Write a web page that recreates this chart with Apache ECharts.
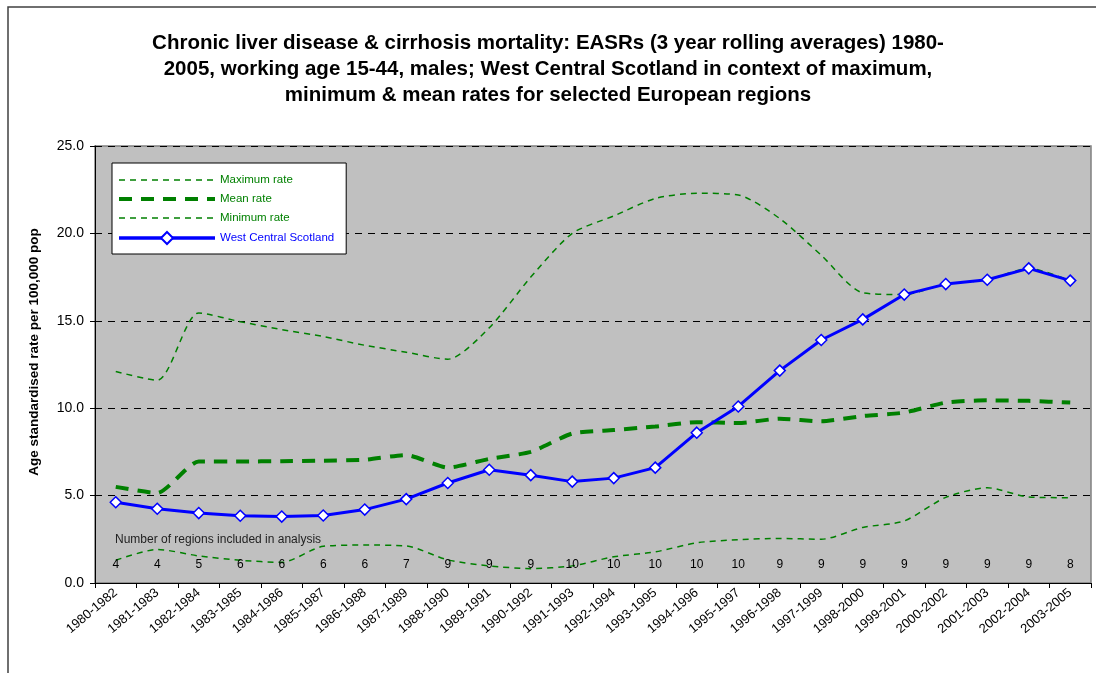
<!DOCTYPE html>
<html>
<head>
<meta charset="utf-8">
<script src="https://cdn.jsdelivr.net/npm/echarts@6/dist/echarts.min.js"></script>
<style>
  html, body { margin: 0; padding: 0; background: #fff; }
  #chart { width: 1096px; height: 673px; }
</style>
</head>
<body>
<div id="chart"></div>
<script>
// categories (3 year rolling periods)
var periods = ['1980-1982', '1981-1983', '1982-1984', '1983-1985', '1984-1986', '1985-1987',
  '1986-1988', '1987-1989', '1988-1990', '1989-1991', '1990-1992', '1991-1993', '1992-1994',
  '1993-1995', '1994-1996', '1995-1997', '1996-1998', '1997-1999', '1998-2000', '1999-2001',
  '2000-2002', '2001-2003', '2002-2004', '2003-2005'];

// EASR values
var maxRate = [12.1, 11.6, 15.45, 14.95, 14.5, 14.1, 13.6, 13.2, 12.8, 14.6, 17.5, 20.0,
  21.0, 22.0, 22.3, 22.2, 20.85, 18.75, 16.6, 16.5, 17.1, 17.35, 18.0, 17.3];
var meanRate = [5.5, 5.15, 6.95, 6.95, 6.97, 7.0, 7.05, 7.32, 6.6, 7.1, 7.5, 8.55,
  8.75, 8.95, 9.2, 9.15, 9.4, 9.25, 9.55, 9.75, 10.32, 10.45, 10.42, 10.32];
var minRate = [1.3, 1.92, 1.55, 1.3, 1.18, 2.1, 2.17, 2.12, 1.32, 0.98, 0.82, 0.98,
  1.5, 1.78, 2.3, 2.48, 2.55, 2.5, 3.18, 3.55, 4.9, 5.45, 4.92, 4.88];
var wcsRate = [4.62, 4.25, 4.0, 3.85, 3.8, 3.86, 4.2, 4.8, 5.72, 6.48, 6.17, 5.8,
  6.0, 6.6, 8.6, 10.1, 12.15, 13.9, 15.08, 16.5, 17.1, 17.35, 18.0, 17.3];

// number of regions in each period
var regionCounts = [4, 4, 5, 6, 6, 6, 6, 7, 9, 9, 9, 10, 10, 10, 10, 10, 9, 9, 9, 9, 9, 9, 9, 8];

// y axis ticks
var yMin = 0, yMax = 25, yStep = 5;

var FONT = 'Arial, "Liberation Sans", sans-serif';
var GREEN = '#008000';
var BLUE = '#0000ff';
var COUNT_ROW_Y = 0.7; // height of the count row in axis units

var chart = echarts.init(document.getElementById('chart'));

// legend: no dot for the plain dashed lines
var hiddenDot = { opacity: 0 };

var option = {
  animation: false,
  backgroundColor: '#ffffff',
  textStyle: { fontFamily: FONT },
  title: {
    text: 'Chronic liver disease & cirrhosis mortality: EASRs (3 year rolling averages) 1980-\n' +
      '2005, working age 15-44, males; West Central Scotland in context of maximum,\n' +
      'minimum & mean rates for selected European regions',
    left: 'center',
    top: 25,
    textStyle: {
      fontFamily: FONT,
      fontSize: 20.5,
      fontWeight: 'bold',
      color: '#000',
      lineHeight: 26,
      align: 'center'
    }
  },
  legend: {
    orient: 'vertical',
    left: 112,
    top: 163,
    padding: [11, 12, 9, 5],
    itemWidth: 96,
    itemHeight: 15,
    itemGap: 7,
    backgroundColor: '#ffffff',
    borderColor: '#000',
    borderWidth: 1,
    borderRadius: 0,
    selectedMode: false,
    textStyle: { fontFamily: FONT, fontSize: 11.5 },
    data: [
      { name: 'Maximum rate', textStyle: { color: GREEN }, itemStyle: hiddenDot,
        lineStyle: { width: 1.5 } },
      { name: 'Mean rate', textStyle: { color: GREEN }, itemStyle: hiddenDot,
        lineStyle: { width: 4 } },
      { name: 'Minimum rate', textStyle: { color: GREEN }, itemStyle: hiddenDot,
        lineStyle: { width: 1.5 } },
      { name: 'West Central Scotland', textStyle: { color: BLUE },
        lineStyle: { width: 3.5 } }
    ]
  },
  grid: {
    left: 95,
    right: 5,
    top: 146,
    bottom: 90,
    show: true,
    backgroundColor: '#c0c0c0',
    borderColor: '#808080',
    borderWidth: 1.5
  },
  xAxis: {
    type: 'category',
    data: periods,
    boundaryGap: true,
    axisLine: { lineStyle: { color: '#000', width: 1 } },
    axisTick: { show: true, length: 5, inside: false, lineStyle: { color: '#000' } },
    axisLabel: {
      interval: 0,
      rotate: 40,
      fontSize: 13,
      color: '#000',
      margin: 8,
      fontFamily: FONT
    },
    splitLine: { show: false }
  },
  yAxis: {
    type: 'value',
    min: yMin,
    max: yMax,
    interval: yStep,
    axisLine: { show: true, lineStyle: { color: '#000', width: 1 } },
    axisTick: { show: true, length: 5, lineStyle: { color: '#000' } },
    axisLabel: {
      fontSize: 14,
      color: '#000',
      margin: 11,
      fontFamily: FONT,
      formatter: function (v) { return v.toFixed(1); }
    },
    splitLine: {
      show: true,
      lineStyle: { color: '#000', type: [7, 6], width: 1 }
    }
  },
  graphic: [
    {
      // outer chart frame
      type: 'rect',
      shape: { x: 8, y: 7, width: 1200, height: 800 },
      style: { fill: 'none', stroke: '#404040', lineWidth: 1.5 },
      silent: true
    },
    {
      type: 'text',
      x: 34,
      y: 352,
      rotation: Math.PI / 2,
      style: {
        text: 'Age standardised rate per 100,000 pop',
        font: 'bold 13.5px ' + FONT,
        fill: '#000',
        align: 'center',
        verticalAlign: 'middle'
      }
    },
    {
      type: 'text',
      x: 115,
      y: 540,
      style: {
        text: 'Number of regions included in analysis',
        font: '12px ' + FONT,
        fill: '#222',
        align: 'left',
        verticalAlign: 'middle'
      }
    }
  ],
  series: [
    {
      name: 'Maximum rate',
      type: 'line',
      data: maxRate,
      smooth: 0.25,
      symbol: 'none',
      z: 2,
      itemStyle: { color: GREEN },
      lineStyle: { color: GREEN, width: 1.5, type: [6, 5] }
    },
    {
      name: 'Mean rate',
      type: 'line',
      data: meanRate,
      smooth: 0.2,
      symbol: 'none',
      z: 2,
      itemStyle: { color: GREEN },
      lineStyle: { color: GREEN, width: 4, type: [13, 9] }
    },
    {
      name: 'Minimum rate',
      type: 'line',
      data: minRate,
      smooth: 0.25,
      symbol: 'none',
      z: 2,
      itemStyle: { color: GREEN },
      lineStyle: { color: GREEN, width: 1.5, type: [6, 5] }
    },
    {
      name: 'West Central Scotland',
      type: 'line',
      data: wcsRate,
      symbol: 'diamond',
      symbolSize: 11,
      z: 4,
      itemStyle: { color: '#ffffff', borderColor: BLUE, borderWidth: 1.5 },
      lineStyle: { color: BLUE, width: 3 }
    },
    {
      name: 'regions',
      type: 'scatter',
      data: regionCounts.map(function (n, i) { return [i, COUNT_ROW_Y]; }),
      symbolSize: 1,
      itemStyle: { color: 'rgba(0,0,0,0)' },
      z: 5,
      silent: true,
      label: {
        show: true,
        position: 'top',
        distance: 0,
        fontSize: 12,
        color: '#000',
        opacity: 1,
        textBorderWidth: 0,
        fontFamily: FONT,
        formatter: function (p) { return String(regionCounts[p.dataIndex]); }
      }
    }
  ]
};

chart.setOption(option);
</script>
</body>
</html>
